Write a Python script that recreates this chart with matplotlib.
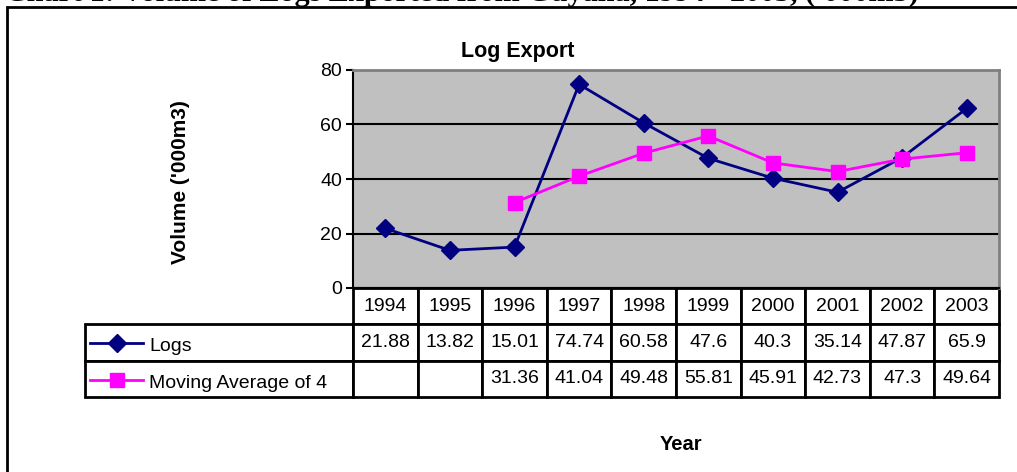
import numpy as np
import matplotlib
matplotlib.use("Agg")
import matplotlib.pyplot as plt
from matplotlib.table import Table
from matplotlib.patches import Rectangle
from matplotlib.lines import Line2D

plt.rcParams['font.family'] = ['Liberation Sans', 'DejaVu Sans']

years = ['1994', '1995', '1996', '1997', '1998', '1999', '2000', '2001', '2002', '2003']
logs = [21.88, 13.82, 15.01, 74.74, 60.58, 47.6, 40.3, 35.14, 47.87, 65.9]
moving_avg = [None, None, 31.36, 41.04, 49.48, 55.81, 45.91, 42.73, 47.3, 49.64]
series_names = ['Logs', 'Moving Average of 4']
yticks = [0, 20, 40, 60, 80]

W, H = 1017, 472
fig = plt.figure(figsize=(W / 100, H / 100), dpi=100)
fig.patch.set_facecolor('white')

# outer frame + clipped report caption
fig.patches.append(Rectangle((7 / W, -0.2), 1.2, 1.2 - 7 / H, transform=fig.transFigure,
                             fill=False, edgecolor='black', lw=2))
fig.text(5 / W, 1 - 0.5 / H, "Chart 1: Volume of Logs Exported from Guyana, 1994 - 2003, ('000m3)",
         family='Liberation Serif', weight='bold', fontsize=21.7, va='baseline', ha='left')

ax = fig.add_axes([353 / W, 1 - 288 / H, 646 / W, 218 / H])
ax.set_facecolor('#C0C0C0')

x = np.arange(len(years))
ma = np.array([np.nan if v is None else v for v in moving_avg])
ax.plot(x, logs, color='#000080', lw=2, marker='D', ms=9, zorder=3)
ax.plot(x, ma, color='#FF00FF', lw=2, marker='s', ms=10, zorder=3)

ax.set_xlim(-0.5, len(years) - 0.5)
ax.set_ylim(0, 80)
ax.set_yticks(yticks)
ax.set_xticks([])
ax.tick_params(axis='y', length=5, width=1.5, labelsize=14, pad=3)
ax.yaxis.grid(True, color='black', lw=1.5)
ax.set_axisbelow(True)
for s in ['left', 'bottom']:
    ax.spines[s].set_color('black')
    ax.spines[s].set_linewidth(1.5)
for s in ['top', 'right']:
    ax.spines[s].set_color('#808080')
    ax.spines[s].set_linewidth(2)

# data table under the axis (bbox covers the data columns only)
lab_w = (353 - 85) / 646
tbl = Table(ax, bbox=[0, -0.5, 1, 0.5])
tbl.auto_set_font_size(False)
for j, yr in enumerate(years):
    tbl.add_cell(0, j, width=0.1, height=1, text=yr, loc='center')
    tbl.add_cell(1, j, width=0.1, height=1, text=f"{logs[j]:g}", loc='center')
    mv = moving_avg[j]
    tbl.add_cell(2, j, width=0.1, height=1, text='' if mv is None else f"{mv:g}", loc='center')
tbl.add_cell(1, -1, width=lab_w, height=1, text='')
tbl.add_cell(2, -1, width=lab_w, height=1, text='')
for (r, c), cell in tbl.get_celld().items():
    cell.set_linewidth(2)
    cell.set_edgecolor('black')
    cell.set_facecolor('white')
    cell.get_text().set_fontsize(14)
ax.add_table(tbl)

# legend keys inside the row label cells
def px(v):
    return (v - 353) / 646

def py(v):
    return (288 - v) / 218

for name, col, mk, ms, yy in [(series_names[0], '#000080', 'D', 9, 343),
                              (series_names[1], '#FF00FF', 's', 10, 380)]:
    ax.add_line(Line2D([px(90), px(143)], [py(yy), py(yy)], color=col, lw=2,
                       transform=ax.transAxes, clip_on=False, zorder=5))
    ax.add_line(Line2D([px(117)], [py(yy)], color=col, marker=mk, ms=ms,
                       transform=ax.transAxes, clip_on=False, zorder=5))
    ax.text(px(149), py(yy + 3), name, transform=ax.transAxes, fontsize=14,
            ha='left', va='center', zorder=6)

fig.text(518 / W, 1 - 52 / H, 'Log Export', fontsize=15.5, weight='bold', ha='center', va='center')
fig.text(180 / W, 1 - 182 / H, "Volume ('000m3)", fontsize=15, weight='bold',
         rotation=90, ha='center', va='center')
fig.text(681 / W, 1 - 444 / H, 'Year', fontsize=14.5, weight='bold', ha='center', va='center')

fig.savefig('out.png', dpi=100)
